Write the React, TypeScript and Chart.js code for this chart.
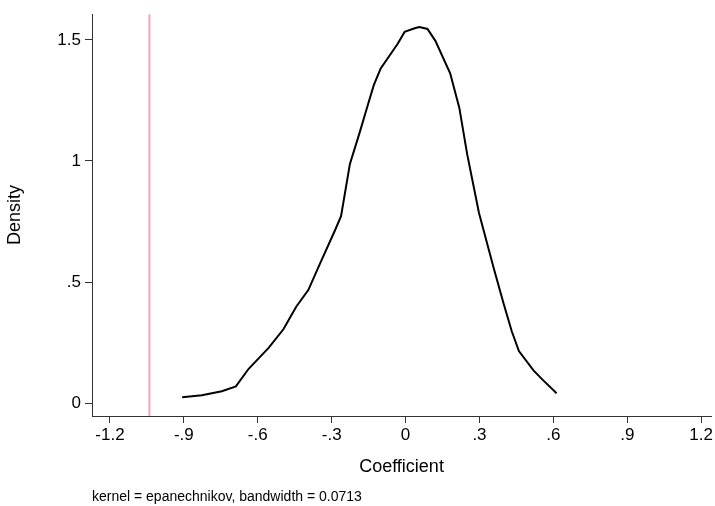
import { useEffect, useRef } from 'react';
import Chart from 'chart.js/auto';

const coef = [-0.907, -0.827, -0.746, -0.689, -0.637, -0.556, -0.496, -0.444, -0.395, -0.347, -0.286, -0.262, -0.226, -0.185, -0.153, -0.129, -0.101, -0.032, -0.004, 0.04, 0.056, 0.089, 0.121, 0.181, 0.218, 0.25, 0.298, 0.359, 0.399, 0.431, 0.46, 0.52, 0.56, 0.613];
const density = [0.024, 0.033, 0.049, 0.069, 0.142, 0.228, 0.305, 0.398, 0.467, 0.577, 0.715, 0.772, 0.988, 1.122, 1.232, 1.313, 1.382, 1.484, 1.533, 1.549, 1.553, 1.545, 1.496, 1.362, 1.22, 1.028, 0.785, 0.553, 0.407, 0.297, 0.215, 0.134, 0.093, 0.041];
const xTicks = [-1.2, -0.9, -0.6, -0.3, 0, 0.3, 0.6, 0.9, 1.2];
const yTicks = [0, 0.5, 1, 1.5];
const refLine = -1.04;
const note = 'kernel = epanechnikov, bandwidth = 0.0713';

const FONT = "'Liberation Sans', Arial, sans-serif";
const fmt = (v: number) => {
    if (Math.abs(v) < 1e-9) return '0';
    const s = String(Math.round(v * 10) / 10);
    return s.replace(/^(-?)0\./, '$1.');
};

export default function App() {
    const chartRef = useRef<HTMLCanvasElement>(null);

    useEffect(() => {
        document.body.style.margin = '0';
        if (!chartRef.current) return;
        const notePlugin = {
            id: 'note',
            afterDraw(chart: any) {
                const ctx = chart.ctx;
                ctx.save();
                ctx.font = `14px ${FONT}`;
                ctx.fillStyle = '#000';
                ctx.textBaseline = 'middle';
                ctx.fillText(note, 92, 497);
                ctx.restore();
            }
        };
        const chart = new Chart(chartRef.current, {
            type: 'line',
            data: {
                datasets: [
                    {
                        data: [{ x: refLine, y: -0.053 }, { x: refLine, y: 1.62 }],
                        borderColor: '#f4a6b4',
                        borderWidth: 2,
                        pointRadius: 0
                    },
                    {
                        data: coef.map((x, i) => ({ x, y: density[i] })),
                        borderColor: '#000',
                        borderWidth: 2,
                        pointRadius: 0,
                        tension: 0
                    }
                ]
            },
            options: {
                animation: false,
                responsive: false,
                layout: { padding: { top: 2, right: 0, left: 0, bottom: 28 } },
                plugins: { legend: { display: false }, tooltip: { enabled: false } },
                scales: {
                    x: {
                        type: 'linear',
                        min: -1.273,
                        max: 1.24,
                        afterBuildTicks: (s: any) => { s.ticks = xTicks.map(v => ({ value: v })); },
                        afterFit: (s: any) => { s.height = 62; },
                        ticks: { callback: (v: any) => fmt(Number(v)), color: '#000', font: { family: FONT, size: 17 }, maxRotation: 0, padding: 2 },
                        grid: { drawOnChartArea: false, tickLength: 7, color: '#333', lineWidth: 1 },
                        border: { display: true, color: '#333', width: 1 },
                        title: { display: true, text: 'Coefficient', color: '#000', font: { family: FONT, size: 18 }, padding: { top: 0, bottom: 0 } }
                    },
                    y: {
                        type: 'linear',
                        min: -0.053,
                        max: 1.606,
                        afterBuildTicks: (s: any) => { s.ticks = yTicks.map(v => ({ value: v })); },
                        afterFit: (s: any) => { s.width = 92; },
                        ticks: { callback: (v: any) => fmt(Number(v)), color: '#000', font: { family: FONT, size: 17 }, padding: 4 },
                        grid: { drawOnChartArea: false, tickLength: 7, color: '#333', lineWidth: 1 },
                        border: { display: true, color: '#333', width: 1 },
                        title: { display: true, text: 'Density', color: '#000', font: { family: FONT, size: 18 }, padding: { bottom: 8 } }
                    }
                }
            },
            plugins: [notePlugin]
        });
        return () => chart.destroy();
    }, []);

    return <canvas ref={chartRef} width={715} height={506} style={{ display: 'block' }} />;
}
